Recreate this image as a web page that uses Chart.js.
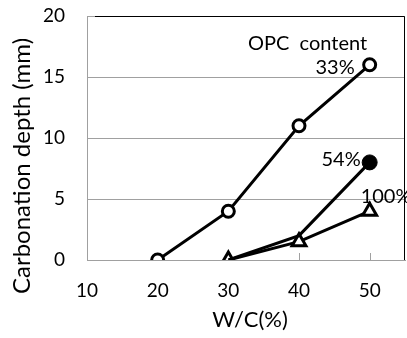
<!DOCTYPE html>
<html>
<head>
<meta charset="utf-8">
<script src="https://cdn.jsdelivr.net/npm/chart.js@4/dist/chart.umd.min.js"></script>
<style>
  html, body { margin: 0; padding: 0; background: #fff; overflow: hidden; }
  /* マーカー分の余白が右に付くので、少し広くして右端をはみ出させる */
  #wrap { width: 416px; height: 338px; }
</style>
</head>
<body>
<div id="wrap"><canvas id="carb"></canvas></div>
<script>
// W/C(%) と中性化深さ
const wc = [20, 30, 40, 50];
const opc33 = [0, 4, 11, 16];
const opc54 = [null, 0, 2, 8];
const opc100 = [null, 0, 1.5, 4];
const seriesNames = ['33%', '54%', '100%'];
const legendTitle = 'OPC  content';
const xTicks = [10, 20, 30, 40, 50];
const yTicks = [0, 5, 10, 15, 20];

const FONT = "Lato, sans-serif";

// null を抜いて {x, y} に
function toPoints(vals) {
    const pts = [];
    for (let i = 0; i < wc.length; i++) {
        if (vals[i] !== null) pts.push({ x: wc[i], y: vals[i] });
    }
    return pts;
}

// 枠線・内向き目盛り・軸タイトル・系列ラベル
const extras = {
    id: 'extras',
    beforeDatasetsDraw(chart) {
        const c = chart.ctx, a = chart.chartArea;
        const xs = chart.scales.x;
        c.save();
        c.strokeStyle = '#a0a0a0';
        c.lineWidth = 1;
        xTicks.forEach(v => {
            const px = Math.round(xs.getPixelForValue(v)) + 0.5;
            c.beginPath();
            c.moveTo(px, a.bottom);
            c.lineTo(px, a.bottom - 7);
            c.stroke();
        });
        c.strokeStyle = '#000';
        c.beginPath();
        c.moveTo(a.left + 8, Math.round(a.top) + 0.5);
        c.lineTo(Math.round(a.right) - 0.5, Math.round(a.top) + 0.5);
        c.lineTo(Math.round(a.right) - 0.5, a.bottom);
        c.stroke();
        c.restore();
    },
    afterDraw(chart) {
        const c = chart.ctx, a = chart.chartArea;
        const xs = chart.scales.x, ys = chart.scales.y;
        c.save();
        c.fillStyle = '#000';
        // y 軸タイトル
        c.font = '24px ' + FONT;
        c.textAlign = 'center';
        c.textBaseline = 'middle';
        c.translate(22, 166);
        c.rotate(-Math.PI / 2);
        c.fillText('Carbonation depth (mm)', 0, 0);
        c.restore();

        c.save();
        c.fillStyle = '#000';
        c.font = '22px ' + FONT;
        c.textAlign = 'center';
        c.textBaseline = 'middle';
        c.fillText('W/C(%)', (a.left + a.right) / 2 + 4, 320);

        // 系列ラベル(最後の点の左上)
        c.font = '20px ' + FONT;
        c.textAlign = 'left';
        c.fillText(legendTitle, 248, 44);
        const last = [opc33[3], opc54[3], opc100[3]];
        const px50 = xs.getPixelForValue(50);
        c.textAlign = 'right';
        c.fillText(seriesNames[0], px50 - 15, ys.getPixelForValue(last[0]) + 3);
        c.fillText(seriesNames[1], px50 - 9, ys.getPixelForValue(last[1]) - 3);
        c.textAlign = 'left';
        c.fillText(seriesNames[2], px50 - 9, ys.getPixelForValue(last[2]) - 15);
        c.restore();
    }
};

const ctx = document.getElementById('carb');
const chart = new Chart(ctx, {
    type: 'line',
    data: {
        datasets: [{
            label: seriesNames[0],
            data: toPoints(opc33),
            borderColor: '#000',
            borderWidth: 3,
            pointStyle: 'circle',
            pointRadius: 6,
            pointBorderWidth: 3,
            pointBackgroundColor: '#fff',
            pointBorderColor: '#000'
        }, {
            label: seriesNames[1],
            data: toPoints(opc54),
            borderColor: '#000',
            borderWidth: 3,
            pointStyle: 'circle',
            pointRadius: [0, 0, 7.5],
            pointBorderWidth: 1,
            pointBackgroundColor: '#000',
            pointBorderColor: '#000'
        }, {
            label: seriesNames[2],
            data: toPoints(opc100),
            borderColor: '#000',
            borderWidth: 3,
            pointStyle: 'triangle',
            pointRadius: 8,
            pointBorderWidth: 3,
            pointBackgroundColor: '#fff',
            pointBorderColor: '#000'
        }]
    },
    options: {
        responsive: true,
        maintainAspectRatio: false,
        animation: false,
        layout: { padding: { top: 16, right: 0, left: 0, bottom: 0 } },
        plugins: {
            legend: { display: false },
            tooltip: { enabled: false }
        },
        scales: {
            x: {
                type: 'linear',
                min: 10,
                max: 55,
                afterFit: s => { s.height = 78; },
                // 目盛り線は透明にして、ラベルを下げるためだけに使う
                grid: {
                    display: true,
                    drawOnChartArea: false,
                    drawTicks: true,
                    tickLength: 19,
                    tickColor: 'rgba(0,0,0,0)'
                },
                border: { display: true, color: '#a0a0a0', width: 1 },
                ticks: {
                    stepSize: 5,
                    autoSkip: false,
                    padding: 0,
                    maxRotation: 0,
                    color: '#000',
                    font: { family: FONT, size: 19 },
                    callback: v => xTicks.includes(v) ? String(v) : ''
                }
            },
            y: {
                min: 0,
                max: 20,
                afterBuildTicks: s => { s.ticks = yTicks.map(v => ({ value: v })); },
                afterFit: s => { s.width = 87; s.paddingTop = 0; s.paddingBottom = 0; },
                grid: { color: '#a0a0a0', lineWidth: 1, drawTicks: false },
                border: { display: true, color: '#a0a0a0', width: 1 },
                ticks: {
                    padding: 22,
                    color: '#000',
                    font: { family: FONT, size: 19 }
                }
            }
        }
    },
    plugins: [extras]
});
</script>
</body>
</html>
